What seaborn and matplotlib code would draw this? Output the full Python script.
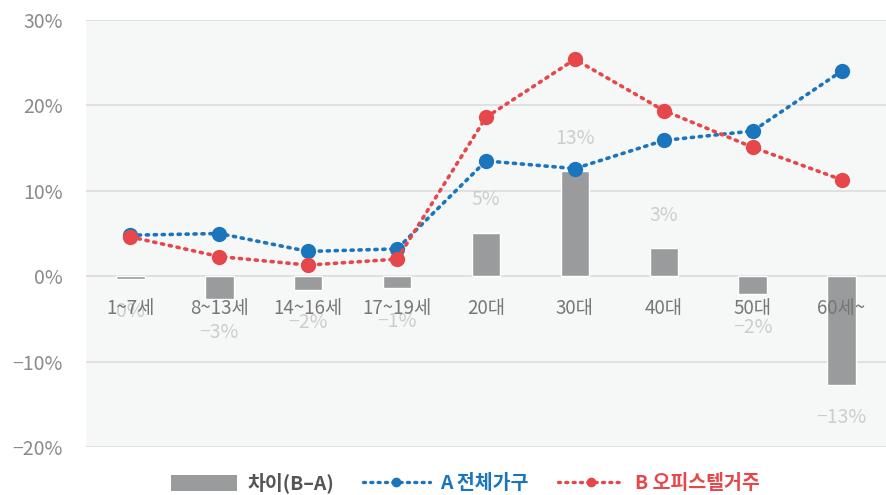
import matplotlib
matplotlib.use("Agg")
import matplotlib.pyplot as plt
import seaborn as sns
import pandas as pd
from matplotlib.lines import Line2D
from matplotlib.patches import Patch

categories = ["1~7세", "8~13세", "14~16세", "17~19세", "20대", "30대", "40대", "50대", "60세~"]
series_a = [4.8, 5.0, 2.9, 3.2, 13.5, 12.6, 15.9, 17.0, 24.0]   # A 전체가구
series_b = [4.6, 2.3, 1.3, 2.0, 18.6, 25.4, 19.4, 15.1, 11.3]   # B 오피스텔거주
diff = [-0.3, -2.7, -1.6, -1.4, 5.1, 12.3, 3.3, -2.1, -12.7]    # 차이(B-A)
diff_labels = ["0%", "-3%", "-2%", "-1%", "5%", "13%", "3%", "-2%", "-13%"]
y_ticks = [-20, -10, 0, 10, 20, 30]
y_tick_labels = ["-20%", "-10%", "0%", "10%", "20%", "30%"]

sns.set_theme(style="white")
plt.rcParams["font.family"] = ["Noto Sans CJK KR", "DejaVu Sans"]
plt.rcParams["axes.unicode_minus"] = False

BLUE = "#1a75bd"
RED = "#e5474b"
GRAY = "#999b9c"
DOTS = (0, (0.6, 1.6))

fig = plt.figure(figsize=(8.86, 4.95), dpi=100)
ax = fig.add_axes([86 / 886, 1 - 447 / 495, 1 - 86 / 886, (447 - 20) / 495])
ax.set_facecolor("#f6f7f7")

df = pd.DataFrame({"cat": categories, "A": series_a, "B": series_b, "D": diff})

sns.barplot(data=df, x="cat", y="D", color=GRAY, width=0.32, ax=ax,
            saturation=1, zorder=2)
for col, c in [("A", BLUE), ("B", RED)]:
    sns.lineplot(data=df, x="cat", y=col, color=c, marker="o", markersize=11,
                 markeredgewidth=0, linewidth=2.6, ax=ax, zorder=4, sort=False)
for ln in ax.lines:
    ln.set_linestyle(DOTS)
    ln.set_dash_capstyle("round")

for i, (v, lab) in enumerate(zip(diff, diff_labels)):
    y = v + 3.85 if v >= 0 else v - 3.85
    ax.text(i, y, lab.replace("-", "−"), ha="center", va="center",
            fontsize=14, color="#cdcdcd", zorder=5)

ax.set_ylim(-20, 30)
ax.set_xlim(-0.5, 8.5)
ax.set_yticks(y_ticks)
ax.set_yticklabels([t.replace("-", "−") for t in y_tick_labels])
ax.yaxis.grid(True, color="#dcdcdc", linewidth=1.2)
ax.set_axisbelow(True)
ax.xaxis.set_zorder(6)
for s in ["top", "right", "left"]:
    ax.spines[s].set_visible(False)
ax.spines["bottom"].set_position(("data", 0))
ax.spines["bottom"].set_visible(False)
ax.tick_params(axis="x", length=0, pad=16, labelsize=13.5, labelcolor="#777777")
ax.tick_params(axis="y", length=0, pad=16.5, labelsize=14, labelcolor="#8a8a8a")
ax.set_xlabel("")
ax.set_ylabel("")

handles = [
    Patch(facecolor=GRAY, edgecolor="none"),
    Line2D([], [], color=BLUE, linestyle=DOTS, linewidth=2.4,
           marker="o", markersize=6, dash_capstyle="round"),
    Line2D([], [], color=RED, linestyle=DOTS, linewidth=2.4,
           marker="o", markersize=6, dash_capstyle="round"),
]
leg = fig.legend(handles, ["차이(B–A)", "A 전체가구", "B 오피스텔거주"],
                 loc="center", bbox_to_anchor=(465 / 886, 1 - 483 / 495),
                 ncol=3, frameon=False, fontsize=14, handlelength=3.4,
                 handleheight=0.9, columnspacing=1.5, handletextpad=0.55)
for t, c in zip(leg.get_texts(), ["#555555", BLUE, RED]):
    t.set_color(c)
    t.set_fontweight("bold")

fig.savefig("out.png", dpi=100, facecolor="white")
